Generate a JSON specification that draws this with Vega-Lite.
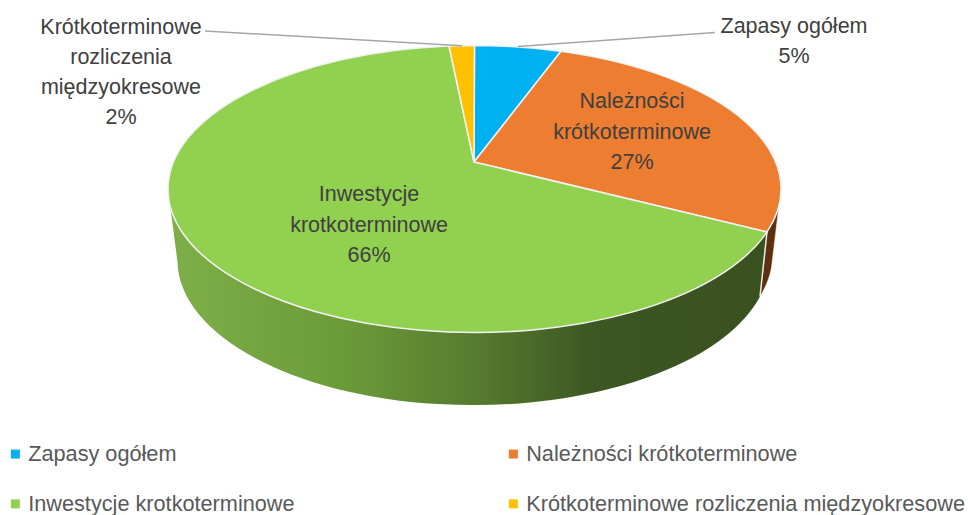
{"$schema":"https://vega.github.io/schema/vega-lite/v6.json","width":968,"height":515,"padding":0,"autosize":"none","background":"white","config":{"view":{"stroke":null},"font":"Liberation Sans"},
"data":{"values":[
{"category":"Zapasy ogółem","share":5,"label":"Zapasy ogółem\n5%"},
{"category":"Należności krótkoterminowe","share":27,"label":"Należności\nkrótkoterminowe\n27%"},
{"category":"Inwestycje krotkoterminowe","share":66,"label":"Inwestycje\nkrotkoterminowe\n66%"},
{"category":"Krótkoterminowe rozliczenia międzyokresowe","share":2,"label":"Krótkoterminowe\nrozliczenia\nmiędzyokresowe\n2%"}]},
"layer":[
{"transform":[{"filter":"datum.share==27"}],"mark":{"type":"point","filled":true,"opacity":1,"size":4,"fill":"#5f3010","stroke":"#ffffff","strokeWidth":0.5,"shape":"M283 -25.6A306.5 143.5 0 0 0 295 -52.5L287.5 10A296 145 0 0 1 276 39Z"}},
{"transform":[{"filter":"datum.share==66"}],"mark":{"type":"point","filled":true,"opacity":1,"size":4,"stroke":"#ffffff","strokeWidth":0,"shape":"M283 -25.6A306.5 143.5 0 0 1 -316 -68.5L-306.5 4.5A296 145 0 0 0 276 39Z","fill":{"gradient":"linear","x1":0,"y1":0,"x2":1,"y2":0,"stops":[{"offset":0,"color":"#7eaf48"},{"offset":0.3,"color":"#6b9a38"},{"offset":0.52,"color":"#557a2e"},{"offset":0.71,"color":"#3c5723"},{"offset":1,"color":"#39511f"}]}}},
{"transform":[{"filter":"datum.share==66"}],"mark":{"type":"point","filled":false,"opacity":1,"size":4,"stroke":"#e8e8e8","strokeWidth":1.5,"shape":"M283 -25.6L276 39"}},
{"transform":[{"filter":"datum.share==5"}],"mark":{"type":"point","filled":true,"opacity":1,"size":4,"stroke":"#f2f2f2","strokeWidth":1.5,"shape":"M-10 -95.5L-9.5 -212A306.5 143.5 0 0 1 77 -206.2Z"},"encoding":{"color":{"field":"category","type":"nominal","scale":{"domain":["Zapasy ogółem","Należności krótkoterminowe","Inwestycje krotkoterminowe","Krótkoterminowe rozliczenia międzyokresowe"],"range":["#00B0F0","#ED7D31","#92D050","#FFC000"]},
"legend":{"title":null,"orient":"none","direction":"horizontal","legendX":4.5,"legendY":443,"columns":2,"symbolType":"square","symbolSize":81,"symbolOpacity":1,"symbolStrokeWidth":0,"labelFontSize":21.7,"labelColor":"#595959","labelLimit":600,"columnPadding":207,"rowPadding":27,"labelOffset":2,"gridAlign":"each"}}}},
{"transform":[{"filter":"datum.share==27"}],"mark":{"type":"point","filled":true,"opacity":1,"size":4,"stroke":"#f2f2f2","strokeWidth":1.5,"shape":"M-10 -95.5L77 -206.2A306.5 143.5 0 0 1 283 -25.6Z"},"encoding":{"color":{"field":"category","type":"nominal"}}},
{"transform":[{"filter":"datum.share==66"}],"mark":{"type":"point","filled":true,"opacity":1,"size":4,"stroke":"#f2f2f2","strokeWidth":1.5,"shape":"M-10 -95.5L283 -25.6A306.5 143.5 0 1 1 -35 -211.5Z"},"encoding":{"color":{"field":"category","type":"nominal"}}},
{"transform":[{"filter":"datum.share==2"}],"mark":{"type":"point","filled":true,"opacity":1,"size":4,"stroke":"#f2f2f2","strokeWidth":1.5,"shape":"M-10 -95.5L-35 -211.5A306.5 143.5 0 0 1 -9.5 -212Z"},"encoding":{"color":{"field":"category","type":"nominal"}}},
{"transform":[{"filter":"datum.share==2"}],"mark":{"type":"point","filled":false,"opacity":1,"size":4,"stroke":"#a6a6a6","strokeWidth":1.5,"shape":"M-279 -226.5L-22 -211.8"}},
{"transform":[{"filter":"datum.share==5"}],"mark":{"type":"point","filled":false,"opacity":1,"size":4,"stroke":"#a6a6a6","strokeWidth":1.5,"shape":"M34 -211L231 -225"}},
{"transform":[{"filter":"datum.share==5"}],"mark":{"type":"text","lineBreak":"\n","lineHeight":30,"fontSize":21.5,"color":"#404040","align":"center","baseline":"middle","dx":310,"dy":-230.5},"encoding":{"text":{"field":"label"}}},
{"transform":[{"filter":"datum.share==27"}],"mark":{"type":"text","lineBreak":"\n","lineHeight":30.5,"fontSize":21.5,"color":"#404040","align":"center","baseline":"middle","dx":148,"dy":-155.5},"encoding":{"text":{"field":"label"}}},
{"transform":[{"filter":"datum.share==66"}],"mark":{"type":"text","lineBreak":"\n","lineHeight":30.5,"fontSize":21.5,"color":"#404040","align":"center","baseline":"middle","dx":-115,"dy":-62.5},"encoding":{"text":{"field":"label"}}},
{"transform":[{"filter":"datum.share==2"}],"mark":{"type":"text","lineBreak":"\n","lineHeight":30,"fontSize":21.5,"color":"#404040","align":"center","baseline":"middle","dx":-363,"dy":-229.5},"encoding":{"text":{"field":"label"}}}
]}
